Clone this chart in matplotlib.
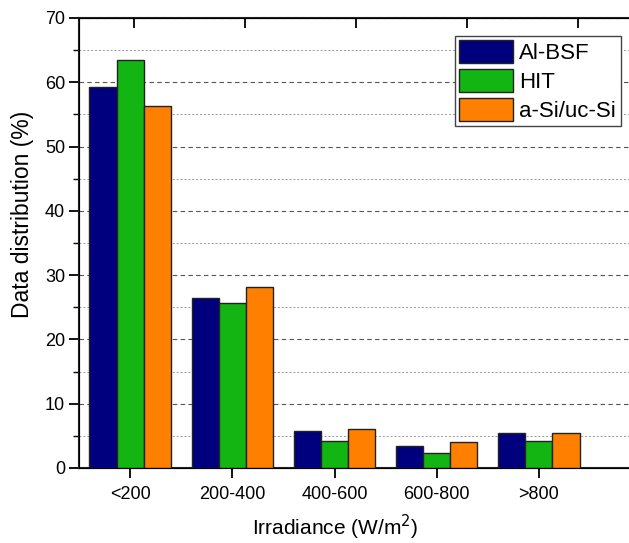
import matplotlib
matplotlib.use('agg')
import numpy as np
import matplotlib.pyplot as plt
from matplotlib.ticker import MultipleLocator

plt.rcParams['font.family'] = ['Liberation Sans', 'DejaVu Sans']

categories = ['<200', '200-400', '400-600', '600-800', '>800']
al_bsf = [59.2, 26.4, 5.7, 3.4, 5.4]
hit = [63.5, 25.7, 4.2, 2.3, 4.2]
asi = [56.3, 28.1, 6.1, 4.0, 5.4]

colors = ['#00007F', '#12B512', '#FF8000']
width = 0.265

W, H = 629., 543.
fig = plt.figure(figsize=(6.29, 5.43), dpi=100)
ax = fig.add_axes([79/W, 75/H, 555/W, 450/H])

ind = np.arange(len(categories))
r1 = ax.bar(ind - width, al_bsf, width, color=colors[0], edgecolor='#222222', linewidth=1, zorder=3)
r2 = ax.bar(ind, hit, width, color=colors[1], edgecolor='#222222', linewidth=1, zorder=3)
r3 = ax.bar(ind + width, asi, width, color=colors[2], edgecolor='#222222', linewidth=1, zorder=3)

ax.set_xlim(-0.5, 4.93)
ax.set_ylim(0, 70)
ax.set_xticks(ind)
ax.set_xticklabels(categories, fontsize=13)
ax.yaxis.set_major_locator(MultipleLocator(10))
ax.yaxis.set_minor_locator(MultipleLocator(5))
ax.tick_params(axis='y', which='major', direction='out', length=7, width=1.3, labelsize=13, pad=3)
ax.tick_params(axis='y', which='minor', direction='out', length=4, width=1.0)
ax.tick_params(axis='x', direction='out', length=7, width=1.3, pad=6)

ax.grid(axis='y', which='major', linestyle=(0, (4, 3)), color='#555555', linewidth=0.8, zorder=0)
ax.grid(axis='y', which='minor', linestyle=(0, (2, 2)), color='#999999', linewidth=0.7, zorder=0)

for s in ['left', 'bottom', 'top', 'right']:
    ax.spines[s].set_linewidth(1.5)
    ax.spines[s].set_color('#222222')

# top axis ticks (inward)
ax2 = ax.twiny()
ax2.set_xlim(0, 5)
ax2.set_xticks(np.arange(5) + 0.5)
ax2.set_xticklabels([])
ax2.tick_params(axis='x', direction='in', length=7, width=1.3)

fig.text(23/W, 1 - 214/H, 'Data distribution (%)', fontsize=16.5, rotation=90,
         ha='center', va='center')
fig.text(335.5/W, 1 - 527/H, 'Irradiance (W/m$^2$)', fontsize=15,
         ha='center', va='center')

leg = ax.legend((r1[0], r2[0], r3[0]), ('Al-BSF', 'HIT', 'a-Si/uc-Si'),
                fontsize=16, loc='upper left', bbox_to_anchor=((455-79)/555., 1 - 18/450.),
                fancybox=False, framealpha=1, edgecolor='#444444',
                handlelength=2.4, handleheight=1.2, handletextpad=0.3,
                labelspacing=0.22, borderpad=0.2, borderaxespad=0)
leg.get_frame().set_linewidth(1.0)
for p in leg.get_patches():
    p.set_edgecolor('#222222')

plt.savefig('out.png', dpi=100)
